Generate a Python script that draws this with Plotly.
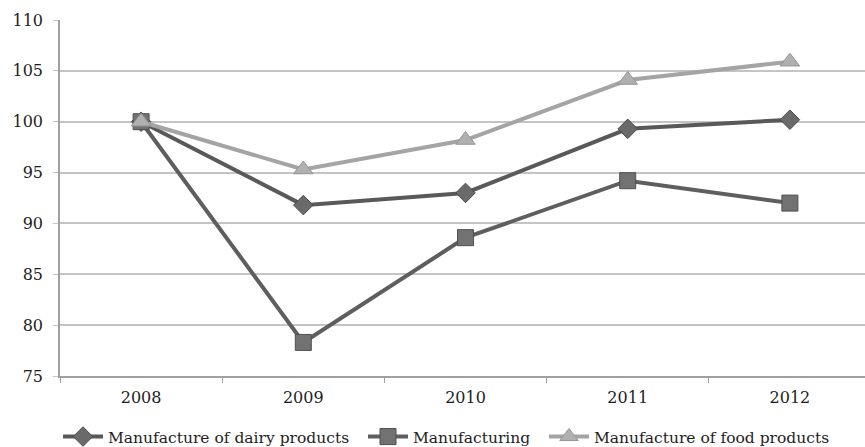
import plotly.graph_objects as go

years = ["2008", "2009", "2010", "2011", "2012"]
dairy = [100.0, 91.8, 93.0, 99.3, 100.2]
manufacturing = [100.0, 78.3, 88.6, 94.2, 92.0]
food = [100.0, 95.3, 98.2, 104.1, 105.9]

y_ticks = [75, 80, 85, 90, 95, 100, 105, 110]

FONT = "DejaVu Serif"
TEXT = "#1e1e1e"
W, H = 865, 447

fig = go.Figure()

fig.add_trace(go.Scatter(
    x=years, y=dairy, name="Manufacture of dairy products",
    mode="lines+markers", legend="legend",
    line=dict(color="#595959", width=4),
    marker=dict(symbol="diamond", size=15, color="#6a6a6a",
                line=dict(color="#4a4a4a", width=1)),
))
fig.add_trace(go.Scatter(
    x=years, y=manufacturing, name="Manufacturing",
    mode="lines+markers", legend="legend2",
    line=dict(color="#5e5e5e", width=4),
    marker=dict(symbol="square", size=16, color="#727272",
                line=dict(color="#4f4f4f", width=1)),
))
fig.add_trace(go.Scatter(
    x=years, y=food, name="Manufacture of food products",
    mode="lines+markers", legend="legend3",
    line=dict(color="#a4a4a4", width=4),
    marker=dict(symbol="triangle-up", size=17, color="#b0b0b0",
                line=dict(color="#959595", width=1)),
))


def legend_box(x_px):
    return dict(
        xref="container", yref="container",
        x=x_px / W, xanchor="left", y=(H - 437) / H, yanchor="middle",
        orientation="h", bgcolor="rgba(0,0,0,0)", borderwidth=0,
        font=dict(family=FONT, size=15.5, color=TEXT),
        itemwidth=40,
    )


fig.update_layout(
    width=W, height=H,
    margin=dict(l=60, r=0, t=20, b=71, autoexpand=False),
    paper_bgcolor="white", plot_bgcolor="white",
    font=dict(family=FONT, size=16, color=TEXT),
    showlegend=True,
    legend=legend_box(58),
    legend2=legend_box(363),
    legend3=legend_box(544),
)

fig.update_xaxes(
    type="category", range=[-0.5, 4.463],
    showline=True, linecolor="#a0a0a0", linewidth=1.5,
    showgrid=False, ticks="outside", tickson="boundaries",
    ticklen=5, tickcolor="#a0a0a0", ticklabelstandoff=6,
    tickfont=dict(family=FONT, size=16, color=TEXT),
)
fig.update_yaxes(
    range=[75, 110], tickvals=y_ticks,
    showline=True, linecolor="#a0a0a0", linewidth=1.5,
    showgrid=True, gridcolor="#c4c4c4", gridwidth=1.5,
    ticks="outside", ticklen=5, tickcolor="#c4c4c4", ticklabelstandoff=7,
    tickfont=dict(family=FONT, size=16, color=TEXT),
    zeroline=False,
)

fig.write_html("out.html")
